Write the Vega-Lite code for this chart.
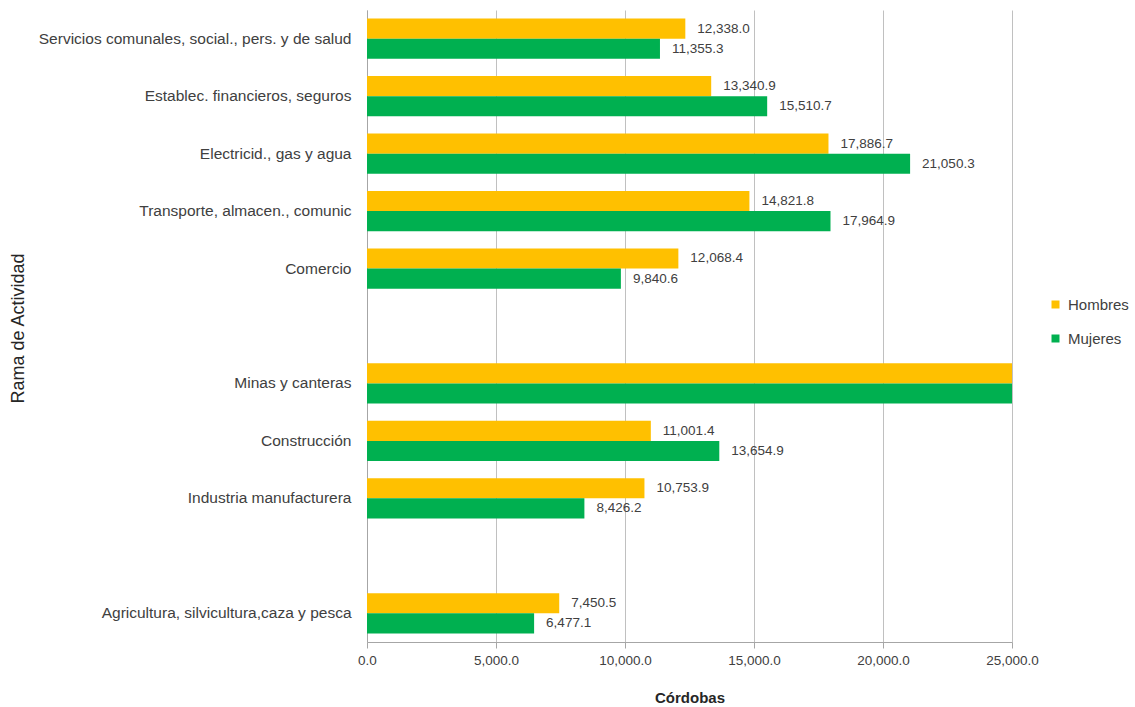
{
  "$schema": "https://vega.github.io/schema/vega-lite/v6.json",
  "autosize": {"type": "none"},
  "width": 645,
  "height": 632,
  "padding": {"left": 367, "top": 10, "right": 123, "bottom": 65},
  "background": "white",
  "config": {
    "font": "Liberation Sans",
    "view": {"stroke": null}
  },
  "data": {
    "values": [
      {"rama": "Servicios comunales, social., pers. y de salud", "sexo": "Hombres", "valor": 12338.0},
      {"rama": "Servicios comunales, social., pers. y de salud", "sexo": "Mujeres", "valor": 11355.3},
      {"rama": "Establec. financieros, seguros", "sexo": "Hombres", "valor": 13340.9},
      {"rama": "Establec. financieros, seguros", "sexo": "Mujeres", "valor": 15510.7},
      {"rama": "Electricid., gas y agua", "sexo": "Hombres", "valor": 17886.7},
      {"rama": "Electricid., gas y agua", "sexo": "Mujeres", "valor": 21050.3},
      {"rama": "Transporte, almacen., comunic", "sexo": "Hombres", "valor": 14821.8},
      {"rama": "Transporte, almacen., comunic", "sexo": "Mujeres", "valor": 17964.9},
      {"rama": "Comercio", "sexo": "Hombres", "valor": 12068.4},
      {"rama": "Comercio", "sexo": "Mujeres", "valor": 9840.6},
      {"rama": "Minas y canteras", "sexo": "Hombres", "valor": 27000},
      {"rama": "Minas y canteras", "sexo": "Mujeres", "valor": 26500},
      {"rama": "Construcción", "sexo": "Hombres", "valor": 11001.4},
      {"rama": "Construcción", "sexo": "Mujeres", "valor": 13654.9},
      {"rama": "Industria manufacturera", "sexo": "Hombres", "valor": 10753.9},
      {"rama": "Industria manufacturera", "sexo": "Mujeres", "valor": 8426.2},
      {"rama": "Agricultura, silvicultura,caza y pesca", "sexo": "Hombres", "valor": 7450.5},
      {"rama": "Agricultura, silvicultura,caza y pesca", "sexo": "Mujeres", "valor": 6477.1}
    ]
  },
  "encoding": {
    "y": {
      "field": "rama",
      "type": "nominal",
      "scale": {
        "domain": [
          "Servicios comunales, social., pers. y de salud",
          "Establec. financieros, seguros",
          "Electricid., gas y agua",
          "Transporte, almacen., comunic",
          "Comercio",
          " ",
          "Minas y canteras",
          "Construcción",
          "Industria manufacturera",
          "  ",
          "Agricultura, silvicultura,caza y pesca"
        ],
        "paddingInner": 0.3,
        "paddingOuter": 0.15
      },
      "axis": {
        "title": "Rama de Actividad",
        "titleFontSize": 18,
        "titleFontWeight": "normal",
        "titleColor": "#262626",
        "titleX": -349,
        "titleY": 318,
        "titleBaseline": "middle",
        "titleAlign": "center",
        "titleAngle": -90,
        "labelFontSize": 15.5,
        "labelLimit": 0,
        "labelColor": "#404040",
        "labelPadding": 16,
        "ticks": false,
        "domainColor": "#a6a6a6",
        "grid": false
      }
    },
    "yOffset": {
      "field": "sexo",
      "type": "nominal",
      "sort": ["Hombres", "Mujeres"],
      "scale": {"paddingInner": 0, "paddingOuter": 0}
    },
    "x": {
      "field": "valor",
      "type": "quantitative",
      "scale": {"domain": [0, 25000], "nice": false},
      "axis": {
        "title": "Córdobas",
        "titleFontSize": 15,
        "titleFontWeight": "bold",
        "titleColor": "#262626",
        "titlePadding": 24,
        "format": ",.1f",
        "values": [0, 5000, 10000, 15000, 20000, 25000],
        "labelFontSize": 13.5,
        "labelFlush": false,
        "labelColor": "#404040",
        "labelPadding": 5,
        "tickSize": 6,
        "tickColor": "#a6a6a6",
        "domainColor": "#a6a6a6",
        "grid": true,
        "gridColor": "#c0c0c0"
      }
    }
  },
  "layer": [
    {
      "mark": {"type": "bar", "clip": true},
      "encoding": {
        "color": {
          "field": "sexo",
          "type": "nominal",
          "scale": {"domain": ["Hombres", "Mujeres"], "range": ["#FFC000", "#00B050"]},
          "legend": {
            "title": null,
            "orient": "none",
            "legendX": 681,
            "legendY": 287,
            "symbolType": "square",
            "symbolSize": 64,
            "symbolStrokeWidth": 0,
            "labelFontSize": 15,
            "labelColor": "#404040",
            "rowPadding": 18,
            "labelOffset": 5
          }
        }
      }
    },
    {
      "mark": {"type": "text", "clip": true, "align": "left", "baseline": "middle", "dx": 12, "fontSize": 13.5, "color": "#404040"},
      "encoding": {
        "text": {"field": "valor", "type": "quantitative", "format": ",.1f"}
      }
    }
  ]
}
